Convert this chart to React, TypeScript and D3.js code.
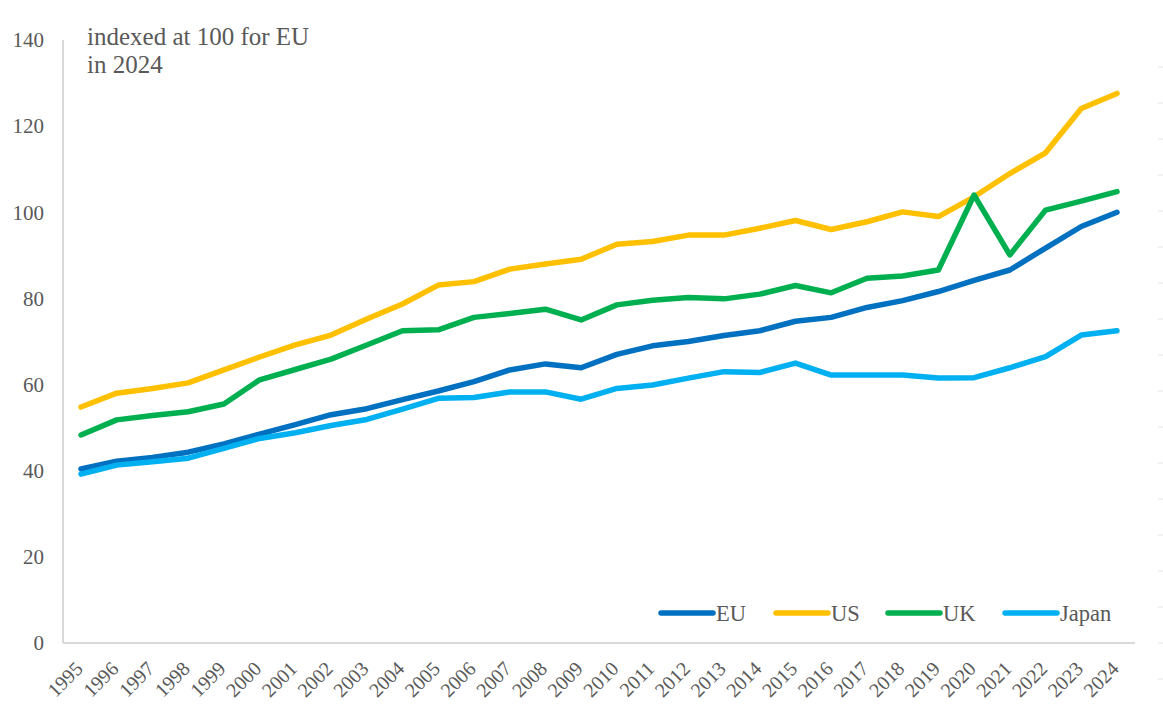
import React, { useEffect, useRef } from 'react'
import * as d3 from 'd3'

const years = d3.range(1995, 2025).map(String)

const euValues = [
    40.4, 42.2, 43.1, 44.3, 46.2, 48.5, 50.7, 53.0, 54.4, 56.5, 58.5, 60.7,
    63.4, 64.8, 63.9, 67.0, 69.0, 70.0, 71.4, 72.5, 74.7, 75.6, 77.9, 79.5,
    81.6, 84.2, 86.6, 91.7, 96.7, 100.0,
]
const usValues = [
    54.8, 58.0, 59.1, 60.4, 63.4, 66.4, 69.2, 71.5, 75.2, 78.7, 83.1, 83.9,
    86.8, 88.0, 89.1, 92.6, 93.2, 94.7, 94.7, 96.3, 98.1, 96.0, 97.8, 100.1,
    99.0, 103.6, 109.0, 113.8, 124.1, 127.6,
]
const ukValues = [
    48.3, 51.8, 52.8, 53.7, 55.5, 61.1, 63.5, 65.9, 69.2, 72.5, 72.7, 75.6,
    76.5, 77.5, 75.0, 78.5, 79.6, 80.2, 79.9, 81.0, 83.0, 81.3, 84.7, 85.2,
    86.6, 104.0, 90.1, 100.5, 102.6, 104.8,
]
const japanValues = [
    39.2, 41.3, 42.1, 42.9, 45.2, 47.5, 48.8, 50.5, 51.9, 54.3, 56.8, 57.0,
    58.3, 58.3, 56.6, 59.1, 59.9, 61.5, 63.0, 62.8, 65.0, 62.2, 62.2, 62.2,
    61.5, 61.6, 63.9, 66.5, 71.5, 72.5,
]
const yTicks = [0, 20, 40, 60, 80, 100, 120, 140]

const seriesNames = ['EU', 'US', 'UK', 'Japan']
const seriesValues = [euValues, usValues, ukValues, japanValues]
const seriesColors = ['#0070C0', '#FFC000', '#00B050', '#00B0F0']

const App: React.FC = () => {
    const svgRef = useRef<SVGSVGElement | null>(null)

    useEffect(() => {
        if (!svgRef.current) return
        const width = 1163
        const height = 715
        const font = '"Liberation Serif", "Times New Roman", serif'
        const textColor = '#595959'
        const axisColor = '#d9d9d9'

        const svg = d3.select(svgRef.current)
        svg.selectAll('*').remove()
        svg.attr('width', width).attr('height', height)

        // plot frame
        const left = 63
        const right = 1135
        const x = d3.scalePoint().domain(years).range([81, 1117])
        const y = d3.scaleLinear().domain([0, 140]).range([643, 40])

        // faint marks along the right edge
        svg.append('g')
            .selectAll('line')
            .data(d3.range(67, 705, 36))
            .join('line')
            .attr('x1', 1158).attr('x2', 1163)
            .attr('y1', (d) => d).attr('y2', (d) => d)
            .attr('stroke', '#e4e4e4').attr('stroke-width', 1)

        // axis lines
        svg.append('line')
            .attr('x1', left).attr('x2', left)
            .attr('y1', y(140)).attr('y2', y(0))
            .attr('stroke', axisColor).attr('stroke-width', 2)
        svg.append('line')
            .attr('x1', left).attr('x2', right)
            .attr('y1', y(0)).attr('y2', y(0))
            .attr('stroke', axisColor).attr('stroke-width', 2)

        // y tick labels
        svg.append('g')
            .selectAll('text')
            .data(yTicks)
            .join('text')
            .attr('x', 44)
            .attr('y', (d) => y(d))
            .attr('dy', '0.35em')
            .attr('text-anchor', 'end')
            .attr('font-family', font)
            .attr('font-size', 21)
            .attr('fill', textColor)
            .text((d) => d)

        // x tick labels (rotated)
        svg.append('g')
            .selectAll('text')
            .data(years)
            .join('text')
            .attr('transform', (d) => `translate(${(x(d) || 0) + 3},${y(0) + 27}) rotate(-45)`)
            .attr('text-anchor', 'end')
            .attr('font-family', font)
            .attr('font-size', 20)
            .attr('fill', textColor)
            .text((d) => d)

        // lines
        const line = d3
            .line<number>()
            .x((_, i) => x(years[i]) || 0)
            .y((d) => y(d))

        seriesValues.forEach((vals, i) => {
            svg.append('path')
                .datum(vals)
                .attr('d', line)
                .attr('fill', 'none')
                .attr('stroke', seriesColors[i])
                .attr('stroke-width', 5.5)
                .attr('stroke-linejoin', 'round')
                .attr('stroke-linecap', 'round')
        })

        // annotation
        const note = svg.append('text')
            .attr('font-family', font)
            .attr('font-size', 25)
            .attr('fill', textColor)
        note.append('tspan').attr('x', 87).attr('y', 45).text('indexed at 100 for EU')
        note.append('tspan').attr('x', 87).attr('y', 73).text('in 2024')

        // legend
        const legendX = [661, 776, 888, 1005]
        const legend = svg.append('g')
        seriesNames.forEach((name, i) => {
            legend.append('line')
                .attr('x1', legendX[i]).attr('x2', legendX[i] + 52)
                .attr('y1', 613).attr('y2', 613)
                .attr('stroke', seriesColors[i])
                .attr('stroke-width', 5.5)
                .attr('stroke-linecap', 'round')
            legend.append('text')
                .attr('x', legendX[i] + 55)
                .attr('y', 613)
                .attr('dy', '0.35em')
                .attr('font-family', font)
                .attr('font-size', 22.5)
                .attr('fill', textColor)
                .text(name)
        })
    }, [])

    return (
        <svg
            ref={svgRef}
            style={{ position: 'absolute', left: 0, top: 0, background: '#fff' }}
        ></svg>
    )
}

export default App
